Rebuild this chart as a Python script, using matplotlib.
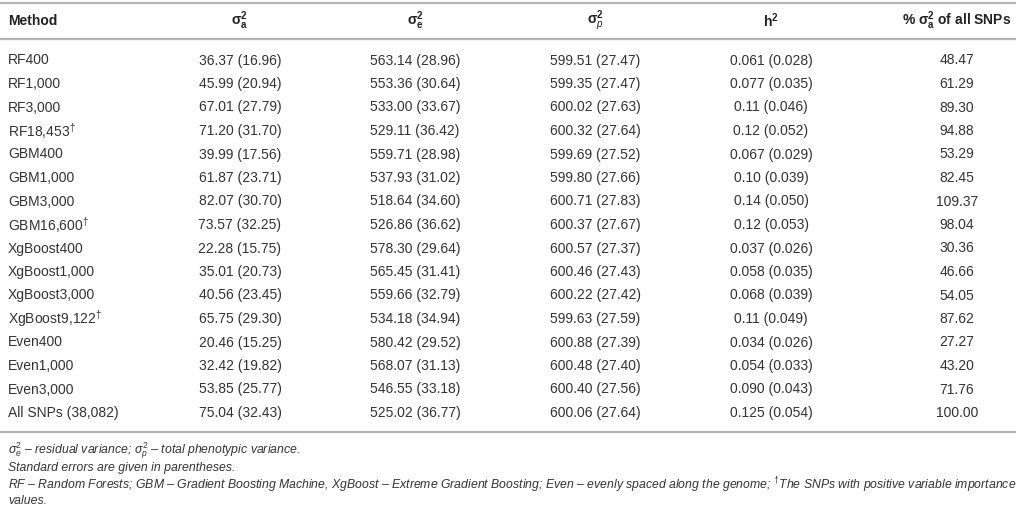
import matplotlib
matplotlib.use("Agg")
import matplotlib.pyplot as plt

plt.rcParams.update({
    "font.family": ["Liberation Sans", "DejaVu Sans"],
    "mathtext.fontset": "custom",
    "mathtext.rm": "Liberation Sans",
    "mathtext.it": "Liberation Sans:italic",
    "mathtext.bf": "Liberation Sans:bold",
    "mathtext.sf": "Liberation Sans",
})

methods = ["RF400", "RF1,000", "RF3,000", "RF18,453$^{\\mathit{\u2020}}$",
           "GBM400", "GBM1,000", "GBM3,000", "GBM16,600$^{\\mathit{\u2020}}$",
           "XgBoost400", "XgBoost1,000", "XgBoost3,000", "XgBoost9,122$^{\\mathit{\u2020}}$",
           "Even400", "Even1,000", "Even3,000", "All SNPs (38,082)"]
sa_val = [36.37, 45.99, 67.01, 71.20, 39.99, 61.87, 82.07, 73.57,
          22.28, 35.01, 40.56, 65.75, 20.46, 32.42, 53.85, 75.04]
sa_se = [16.96, 20.94, 27.79, 31.70, 17.56, 23.71, 30.70, 32.25,
         15.75, 20.73, 23.45, 29.30, 15.25, 19.82, 25.77, 32.43]
se_val = [563.14, 553.36, 533.00, 529.11, 559.71, 537.93, 518.64, 526.86,
          578.30, 565.45, 559.66, 534.18, 580.42, 568.07, 546.55, 525.02]
se_se = [28.96, 30.64, 33.67, 36.42, 28.98, 31.02, 34.60, 36.62,
         29.64, 31.41, 32.79, 34.94, 29.52, 31.13, 33.18, 36.77]
sp_val = [599.51, 599.35, 600.02, 600.32, 599.69, 599.80, 600.71, 600.37,
          600.57, 600.46, 600.22, 599.63, 600.88, 600.48, 600.40, 600.06]
sp_se = [27.47, 27.47, 27.63, 27.64, 27.52, 27.66, 27.83, 27.67,
         27.37, 27.43, 27.42, 27.59, 27.39, 27.40, 27.56, 27.64]
h2_val = ["0.061", "0.077", "0.11", "0.12", "0.067", "0.10", "0.14", "0.12",
          "0.037", "0.058", "0.068", "0.11", "0.034", "0.054", "0.090", "0.125"]
h2_se = ["0.028", "0.035", "0.046", "0.052", "0.029", "0.039", "0.050", "0.053",
         "0.026", "0.035", "0.039", "0.049", "0.026", "0.033", "0.043", "0.054"]
pct = [48.47, 61.29, 89.30, 94.88, 53.29, 82.45, 109.37, 98.04,
       30.36, 46.66, 54.05, 87.62, 27.27, 43.20, 71.76, 100.00]

headers = ["Method", r"$\mathbf{\sigma^2_a}$", r"$\mathbf{\sigma^2_e}$",
           r"$\mathbf{\sigma}^\mathbf{2}_{\mathit{p}}$", r"$\mathbf{h^2}$",
           r"% $\mathbf{\sigma^2_a}$ of all SNPs"]
notes = [
    r"$\sigma^2_e$ – residual variance; $\sigma^2_p$ – total phenotypic variance.",
    "Standard errors are given in parentheses.",
    "RF – Random Forests; GBM – Gradient Boosting Machine, XgBoost – Extreme Gradient Boosting; "
    "Even – evenly spaced along the genome; $^{\u2020}$The SNPs with positive variable importance",
    "values.",
]

W, H = 1016, 515
fig = plt.figure(figsize=(W / 100, H / 100), dpi=100)
ax = fig.add_axes([0, 0, 1, 1])
ax.set_xlim(0, W)
ax.set_ylim(H, 0)
ax.axis("off")

TXT = "#333333"
RULE = "#b4b4b4"
col_x = [8, 240, 415, 595, 771, 957]
fs = 10

for y in (3, 39, 432):
    ax.axhline(y, color=RULE, lw=1.6)

for i, h in enumerate(headers):
    ax.text(col_x[i], 21, h, ha="left" if i == 0 else "center", va="center",
            fontsize=fs, fontweight="bold", color="#222222")

row_y0, row_dy = 60.5, 23.5
for r, m in enumerate(methods):
    y = row_y0 + r * row_dy
    cells = [m,
             f"{sa_val[r]:.2f} ({sa_se[r]:.2f})",
             f"{se_val[r]:.2f} ({se_se[r]:.2f})",
             f"{sp_val[r]:.2f} ({sp_se[r]:.2f})",
             f"{h2_val[r]} ({h2_se[r]})",
             f"{pct[r]:.2f}"]
    for i, c in enumerate(cells):
        ax.text(col_x[i], y, c, ha="left" if i == 0 else "center", va="center",
                fontsize=fs, color=TXT)

for n, y in zip(notes, [451, 468, 485, 501]):
    ax.text(8, y, n, ha="left", va="center", fontsize=8.8, style="italic", color=TXT)

fig.savefig("out.png", dpi=100)
